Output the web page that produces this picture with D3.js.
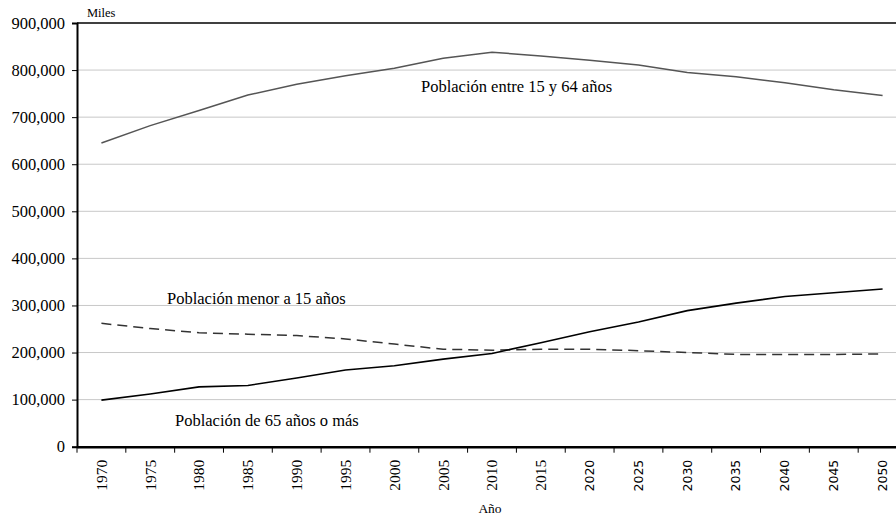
<!DOCTYPE html>
<html><head><meta charset="utf-8">
<script src="https://cdn.jsdelivr.net/npm/d3@7"></script>
<style>body{margin:0;background:#fff}svg{display:block}
.serif{font-family:"Liberation Serif","Times New Roman",Times,"DejaVu Serif",serif}
.sans{font-family:"DejaVu Sans",Verdana,sans-serif}
</style>
</head><body>
<svg id="c" width="896" height="518"></svg>
<script>
const years = [1970,1975,1980,1985,1990,1995,2000,2005,2010,2015,2020,2025,2030,2035,2040,2045,2050];
const pop15to64 = [645000,682000,714000,747000,770000,788000,804000,825000,838000,830000,821000,811000,795000,786000,773000,758000,746000];
const popUnder15 = [262000,251000,242000,239000,236000,229000,218000,207000,205000,207000,207000,204000,200000,196000,196000,196000,197000];
const pop65plus = [99000,112000,127000,130000,146000,163000,172000,186000,198000,221000,244000,265000,289000,305000,319000,327000,335000];
const yTicks = [0,100000,200000,300000,400000,500000,600000,700000,800000,900000];

const svg = d3.select("#c");
const L = 77, R = 907, T = 23, B = 446.7;

const x = d3.scaleBand().domain(years).range([L, R]);
const y = d3.scaleLinear().domain([0, 900000]).range([B, T]);
const fmt = d3.format(",");

// gridlines
svg.append("g").selectAll("line").data(yTicks.filter(d => d > 0 && d < 900000)).join("line")
  .attr("x1", L).attr("x2", R).attr("y1", d => y(d)).attr("y2", d => y(d))
  .attr("stroke", "#c8c8c8").attr("stroke-width", 1);
// top border
svg.append("line").attr("x1", L).attr("x2", R).attr("y1", y(900000)).attr("y2", y(900000))
  .attr("stroke", "#000").attr("stroke-width", 1.5);

// Y axis
const ya = svg.append("g").attr("transform", `translate(${L},0)`)
  .call(d3.axisLeft(y).tickValues(yTicks).tickFormat(fmt).tickSize(5).tickPadding(7));
ya.attr("font-family", null).attr("font-size", null);
ya.select(".domain").attr("stroke-width", 2);
ya.selectAll("text").attr("class", "serif").style("font-size", "16.5px").attr("fill", "#000");

// X axis
const xa = svg.append("g").attr("transform", `translate(0,${B})`)
  .call(d3.axisBottom(x).tickSize(0).tickSizeOuter(0));
xa.attr("font-family", null).attr("font-size", null);
xa.select(".domain").attr("stroke-width", 2.5);
xa.selectAll(".tick text")
  .attr("transform", "rotate(-90)")
  .attr("text-anchor", "end")
  .attr("x", -13).attr("y", 0).attr("dy", "0.35em")
  .attr("class", d => d >= 2020 ? "sans" : "serif")
  .style("font-size", d => d >= 2020 ? "12.5px" : "15.5px")
  .attr("fill", "#000");
// tick marks at band boundaries
svg.append("g").selectAll("line").data(years).join("line")
  .attr("x1", d => x(d)).attr("x2", d => x(d)).attr("y1", B).attr("y2", B + 6)
  .attr("stroke", "#000").attr("stroke-width", 1);

const cx = d => x(d) + x.bandwidth() / 2;
const line = d3.line().x((d, i) => cx(years[i])).y(d => y(d));

svg.append("path").datum(pop15to64).attr("d", line)
  .attr("fill", "none").attr("stroke", "#555").attr("stroke-width", 1.5);
svg.append("path").datum(popUnder15).attr("d", line)
  .attr("fill", "none").attr("stroke", "#333").attr("stroke-width", 1.5).attr("stroke-dasharray", "10,6");
svg.append("path").datum(pop65plus).attr("d", line)
  .attr("fill", "none").attr("stroke", "#000").attr("stroke-width", 1.6);

// labels
const lab = (t, xx, yy, size, anchor) => svg.append("text").text(t).attr("x", xx).attr("y", yy)
  .attr("class", "serif").style("font-size", size + "px").attr("text-anchor", anchor || "start").attr("fill", "#000");
lab("Población entre 15 y 64 años", 421, 92, 16.5);
lab("Población menor a 15 años", 167, 304, 16.5);
lab("Población de 65 años o más", 175, 426, 16.5);
lab("Miles", 87, 17, 12.5);
lab("Año", 490, 513, 13.5, "middle");
</script>
</body></html>
